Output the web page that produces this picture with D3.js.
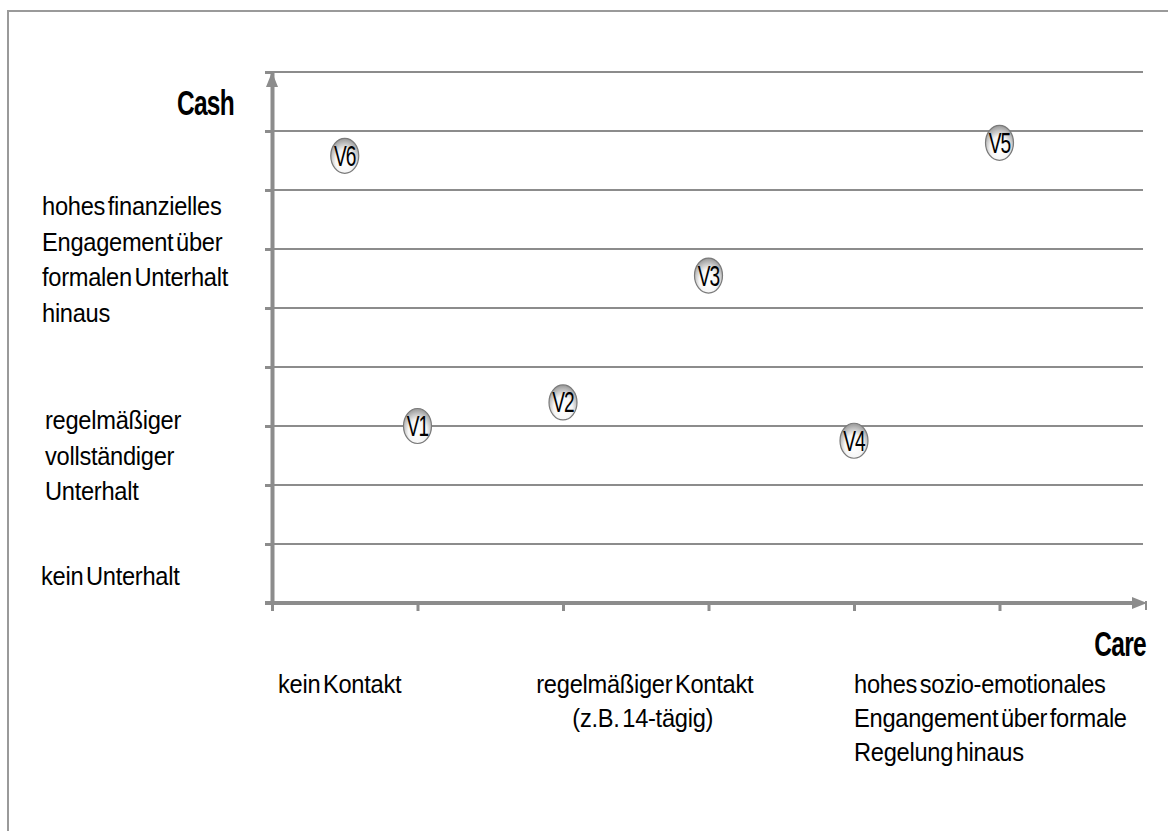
<!DOCTYPE html>
<html><head><meta charset="utf-8">
<script src="https://cdn.jsdelivr.net/npm/d3@7"></script>
<style>
html,body{margin:0;padding:0;background:#fff;}
svg{display:block;}
text{font-family:"Liberation Sans",Arial,sans-serif;fill:#000;}
</style></head>
<body>
<svg id="chart" width="1168" height="831"></svg>
<script>
// ---- data ----
const pointLabels = ["V1","V2","V3","V4","V5","V6"];
const careValues  = [1.0, 2.0, 3.0, 4.0, 5.0, 0.5];
const cashValues  = [3.0, 3.4, 5.55, 2.75, 7.8, 7.58];
const xTickValues = [0,1,2,3,4,5,6];
const yTickValues = [0,1,2,3,4,5,6,7,8,9];
const xAxisTitle = "Care";
const yAxisTitle = "Cash";
const yCategoryLines = [
  ["hohes finanzielles","Engagement über","formalen Unterhalt","hinaus"],
  ["regelmäßiger","vollständiger","Unterhalt"],
  ["kein Unterhalt"]
];
const xCategoryLines = [
  ["kein Kontakt"],
  ["regelmäßiger Kontakt","(z.B. 14-tägig)"],
  ["hohes sozio-emotionales","Engangement über formale","Regelung hinaus"]
];

// ---- layout ----
const svg = d3.select("#chart");
const x = d3.scaleLinear().domain([0,6]).range([272,1145]);
const y = d3.scaleLinear().domain([0,9]).range([603,72]);
const gray = "#8c8c8c";

// outer frame
svg.append("rect").attr("x",8).attr("y",11).attr("width",1200).attr("height",900)
  .attr("fill","none").attr("stroke","#9a9a9a").attr("stroke-width",2);

const defs = svg.append("defs");
const grad = defs.append("radialGradient").attr("id","mk").attr("cx","50%").attr("cy","62%").attr("r","60%").attr("fx","50%").attr("fy","70%");
grad.append("stop").attr("offset","0%").attr("stop-color","#ffffff");
grad.append("stop").attr("offset","55%").attr("stop-color","#f6f6f6");
grad.append("stop").attr("offset","100%").attr("stop-color","#9c9c9c");

// gridlines
svg.append("g").selectAll("line").data(yTickValues.filter(d=>d>0)).join("line")
  .attr("x1",x(0)).attr("x2",x(6)-2).attr("y1",d=>y(d)).attr("y2",d=>y(d))
  .attr("stroke",gray).attr("stroke-width",2);

// y axis
const yAxis = svg.append("g").attr("transform",`translate(${x(0)},0)`)
  .call(d3.axisLeft(y).tickValues(yTickValues).tickSize(7).tickFormat("").tickSizeOuter(0));
yAxis.select(".domain").attr("stroke",gray).attr("stroke-width",4);
yAxis.selectAll(".tick line").attr("stroke",gray).attr("stroke-width",3);

// x axis
const xAxis = svg.append("g").attr("transform",`translate(0,${y(0)})`)
  .call(d3.axisBottom(x).tickValues(xTickValues.slice(0,6)).tickSize(8).tickFormat("").tickSizeOuter(0));
xAxis.select(".domain").attr("stroke",gray).attr("stroke-width",4)
  .attr("d",`M${x(0)-7},0H${x(6)-6}`);
xAxis.selectAll(".tick line").attr("stroke",gray).attr("stroke-width",3);

// arrowheads
svg.append("path").attr("d",`M${x(0)},${y(9)} l-6,15 h12 z`).attr("fill",gray);
svg.append("path").attr("d",`M${x(6)+2},${y(0)} l-15,-6 v12 z`).attr("fill",gray);
svg.append("line").attr("x1",x(6)+1).attr("x2",x(6)+1).attr("y1",y(0)-2).attr("y2",y(0)+7).attr("stroke",gray).attr("stroke-width",2);

// condensed text helper
function ctext(g, str, tx, ty, opts){
  const o = Object.assign({size:26, sx:0.91, anchor:"start", weight:"normal", ls:-0.3, ws:-4}, opts||{});
  g.append("text").attr("transform",`translate(${tx},${ty}) scale(${o.sx},1)`)
    .attr("text-anchor",o.anchor).attr("font-size",o.size).attr("font-weight",o.weight)
    .attr("letter-spacing",o.ls).attr("word-spacing",o.ws).text(str);
}
const tg = svg.append("g");

// axis titles
ctext(tg, yAxisTitle, 234, 115, {size:35, sx:0.7, anchor:"end", weight:"bold", ls:-1, ws:0});
ctext(tg, xAxisTitle, x(6)+1, 656, {size:35, sx:0.7, anchor:"end", weight:"bold", ls:-1, ws:0});

// y category labels
const lh = 35.5;
const yStarts = [215, 429, 585];
const yX = [42, 45, 41];
yCategoryLines.forEach((lines,i)=>{
  lines.forEach((s,j)=> ctext(tg, s, yX[i], yStarts[i]+j*lh));
});
// x category labels
const xStartY = 693, xlh = 34;
xCategoryLines[0].forEach((s,j)=>ctext(tg, s, x(0)+6, xStartY+j*xlh));
xCategoryLines[1].forEach((s,j)=>ctext(tg, s, (x(2)+x(3))/2 + 9 - j*2, xStartY+j*xlh, {anchor:"middle"}));
xCategoryLines[2].forEach((s,j)=>ctext(tg, s, x(4), xStartY+j*xlh));

// points
const pts = pointLabels.map((l,i)=>({label:l, cx:careValues[i], cy:cashValues[i]}));
const pg = svg.append("g").selectAll("g").data(pts).join("g")
  .attr("transform",d=>`translate(${x(d.cx)},${y(d.cy)})`);
pg.append("ellipse").attr("rx",14).attr("ry",17.5).attr("fill","url(#mk)")
  .attr("stroke","#7a7a7a").attr("stroke-width",1.2);
pg.append("text").attr("transform","translate(0,10) scale(0.66,1)")
  .attr("text-anchor","middle").attr("font-size",29).attr("letter-spacing",-1.5)
  .text(d=>d.label);
</script>
</body></html>
